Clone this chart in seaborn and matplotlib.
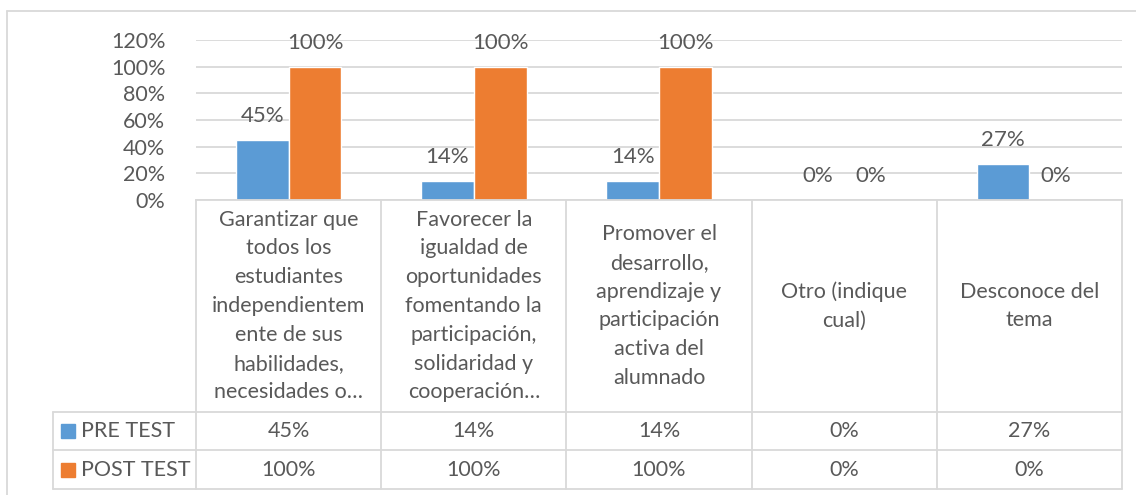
import pandas as pd
import seaborn as sns
import matplotlib
matplotlib.use("Agg")
import matplotlib.pyplot as plt
from matplotlib.lines import Line2D
from matplotlib.patches import Rectangle

# datos del grafico (tabla de datos de Excel)
categorias = [
    "Garantizar que\ntodos los\nestudiantes\nindependientem\nente de sus\nhabilidades,\nnecesidades o…",
    "Favorecer la\nigualdad de\noportunidades\nfomentando la\nparticipación,\nsolidaridad y\ncooperación…",
    "Promover el\ndesarrollo,\naprendizaje y\nparticipación\nactiva del\nalumnado",
    "Otro (indique\ncual)",
    "Desconoce del\ntema",
]
series = ["PRE TEST", "POST TEST"]
pre_test = [0.45, 0.14, 0.14, 0.0, 0.27]
post_test = [1.0, 1.0, 1.0, 0.0, 0.0]
colores = ["#5B9BD5", "#ED7D31"]
yticks = [0, 0.2, 0.4, 0.6, 0.8, 1.0, 1.2]

df = pd.DataFrame({
    "cat": list(range(len(categorias))) * 2,
    "serie": [series[0]] * len(pre_test) + [series[1]] * len(post_test),
    "valor": pre_test + post_test,
})

sns.set_theme(style="white")
plt.rcParams["font.family"] = ["Lato", "DejaVu Sans"]
txt = "#595959"
gris = "#D9D9D9"
fs = 15.5

W, H = 1136, 495
fig = plt.figure(figsize=(W / 100, H / 100), dpi=100)


def fx(px):
    return px / W


def fy(py):
    return 1 - py / H


x0, x1 = 196, 1122
ax = fig.add_axes([fx(x0), fy(200), fx(x1 - x0), 160 / H])
sns.barplot(data=df, x="cat", y="valor", hue="serie", palette=colores,
            width=0.57, ax=ax, legend=False, saturation=1, native_scale=True)
ax.set_xlim(-0.5, len(categorias) - 0.5)
ax.set_ylim(0, 1.2)
ax.set_yticks(yticks)
ax.set_yticklabels([f"{int(round(t * 100))}%" for t in yticks], color=txt, fontsize=fs)
ax.tick_params(axis="y", length=0, pad=22)
ax.set_xticks([])
ax.set_xlabel("")
ax.set_ylabel("")
ax.yaxis.grid(True, color=gris, linewidth=1.3)
ax.set_axisbelow(True)
for s in ["top", "right", "left"]:
    ax.spines[s].set_visible(False)
ax.spines["bottom"].set_color(gris)
ax.spines["bottom"].set_linewidth(1.3)

# etiquetas de datos
for cont in ax.containers:
    for bar in cont:
        v = bar.get_height()
        ax.annotate(f"{int(round(v * 100))}%",
                    (bar.get_x() + bar.get_width() / 2, v),
                    xytext=(0, 10), textcoords="offset points",
                    ha="center", va="bottom", color=txt, fontsize=fs + 0.5)

# tabla de datos
cw = (x1 - x0) / len(categorias)
lw = 1.3
rows_y = [200, 412, 450, 489]
legend_x = 53


def hline(xa, xb, y):
    fig.add_artist(Line2D([fx(xa), fx(xb)], [fy(y), fy(y)], color=gris, lw=lw))


def vline(x, ya, yb):
    fig.add_artist(Line2D([fx(x), fx(x)], [fy(ya), fy(yb)], color=gris, lw=lw))


for y in rows_y[1:]:
    hline(legend_x, x1, y)
for i in range(len(categorias) + 1):
    vline(x0 + i * cw, rows_y[0], rows_y[-1])
vline(legend_x, rows_y[1], rows_y[-1])

for i, c in enumerate(categorias):
    fig.text(fx(x0 + (i + 0.5) * cw), fy((rows_y[0] + rows_y[1]) / 2), c,
             ha="center", va="center", color=txt, fontsize=fs, linespacing=1.55)

for r, (nombre, vals) in enumerate(zip(series, [pre_test, post_test])):
    yc = (rows_y[r + 1] + rows_y[r + 2]) / 2
    fig.add_artist(Rectangle((fx(61), fy(yc + 7)), 14 / W, 14 / H,
                             color=colores[r], transform=fig.transFigure))
    fig.text(fx(81), fy(yc), nombre, ha="left", va="center", color=txt, fontsize=fs)
    for i, v in enumerate(vals):
        fig.text(fx(x0 + (i + 0.5) * cw), fy(yc), f"{int(round(v * 100))}%",
                 ha="center", va="center", color=txt, fontsize=fs)

# borde del area del grafico
hline(7, W, 11)
vline(7, 11, H)

fig.savefig("out.png", dpi=100)
